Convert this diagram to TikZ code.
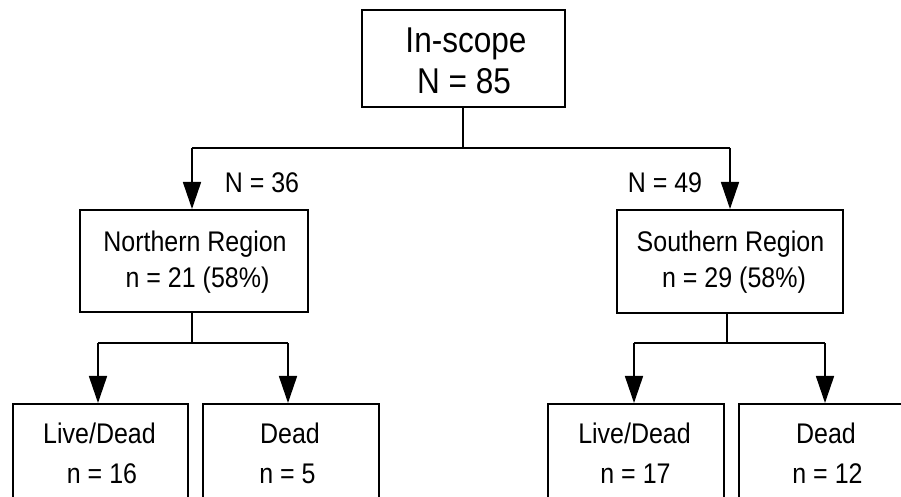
\documentclass[tikz,border=0pt]{standalone}
\usepackage{fontspec}
\setmainfont{Liberation Sans}[FakeStretch=0.88]
\usetikzlibrary{arrows.meta}
\begin{document}
\begin{tikzpicture}[x=1bp,y=-1bp,
  box/.style={draw, line width=2bp, inner sep=0pt},
  conn/.style={line width=1.6bp},
  arr/.style={conn, -{Triangle[width=18bp,length=27bp]}},
  big/.style={font=\fontsize{36}{40}\selectfont, inner sep=0pt, anchor=base},
  mid/.style={font=\fontsize{28.5}{34}\selectfont, inner sep=0pt, anchor=base},
  lbl/.style={font=\fontsize{28.5}{32}\selectfont, inner sep=0pt, anchor=base},
]
\useasboundingbox (0,0) rectangle (901,497);
\clip (0,0) rectangle (901,497);
% boxes
\node[box, minimum width=203bp, minimum height=97bp]  (top)   at (463.5,58.5) {};
\node[box, minimum width=228bp, minimum height=102bp] (north) at (194,261) {};
\node[box, minimum width=226bp, minimum height=103bp] (south) at (730,261.5) {};
\node[box, minimum width=175bp, minimum height=126bp] (ld1)   at (100.5,467) {};
\node[box, minimum width=176bp, minimum height=126bp] (d1)    at (291,467) {};
\node[box, minimum width=176bp, minimum height=126bp] (ld2)   at (636,467) {};
\node[box, minimum width=176bp, minimum height=126bp] (d2)    at (827,467) {};
% texts
\node[big] (t1) at (466,53) {In-scope};
\node[big] (t2) at (464,94) {N = 85};
\node[mid] (n1) at (195,251.7) {Northern Region};
\node[mid] (n2) at (197.5,288) {n = 21 (58\%)};
\node[mid] (s1) at (730.5,251.7) {Southern Region};
\node[mid] (s2) at (734,288) {n = 29 (58\%)};
\node[mid] (a1) at (99.5,443) {Live/Dead};
\node[mid] (a2) at (102,483) {n = 16};
\node[mid] (b1) at (290,443) {Dead};
\node[mid] (b2) at (287.5,483) {n = 5};
\node[mid] (c1) at (634.5,443) {Live/Dead};
\node[mid] (c2) at (635.5,483) {n = 17};
\node[mid] (e1) at (826,443) {Dead};
\node[mid] (e2) at (827.5,483) {n = 12};
\node[lbl] (l36) at (262,193) {N = 36};
\node[lbl] (l49) at (665,193) {N = 49};
% connectors
\coordinate (s0) at (463,148);
\coordinate (nL) at (192,148);
\coordinate (sR) at (730,148);
\draw[conn] (top.south -| s0) -- (s0);
\draw[conn] (nL) -- (sR);
\draw[arr] (nL) -- (nL |- north.north);
\draw[arr] (sR) -- (sR |- south.north);
\coordinate (ns) at (192,343);
\coordinate (nl) at (98,343);
\coordinate (nr) at (288,343);
\draw[conn] (ns |- north.south) -- (ns);
\draw[conn] (nl) -- (nr);
\draw[arr] (nl) -- (nl |- ld1.north);
\draw[arr] (nr) -- (nr |- d1.north);
\coordinate (ss) at (727,343);
\coordinate (sl) at (634,343);
\coordinate (sr) at (825,343);
\draw[conn] (ss |- south.south) -- (ss);
\draw[conn] (sl) -- (sr);
\draw[arr] (sl) -- (sl |- ld2.north);
\draw[arr] (sr) -- (sr |- d2.north);
\end{tikzpicture}
\end{document}
